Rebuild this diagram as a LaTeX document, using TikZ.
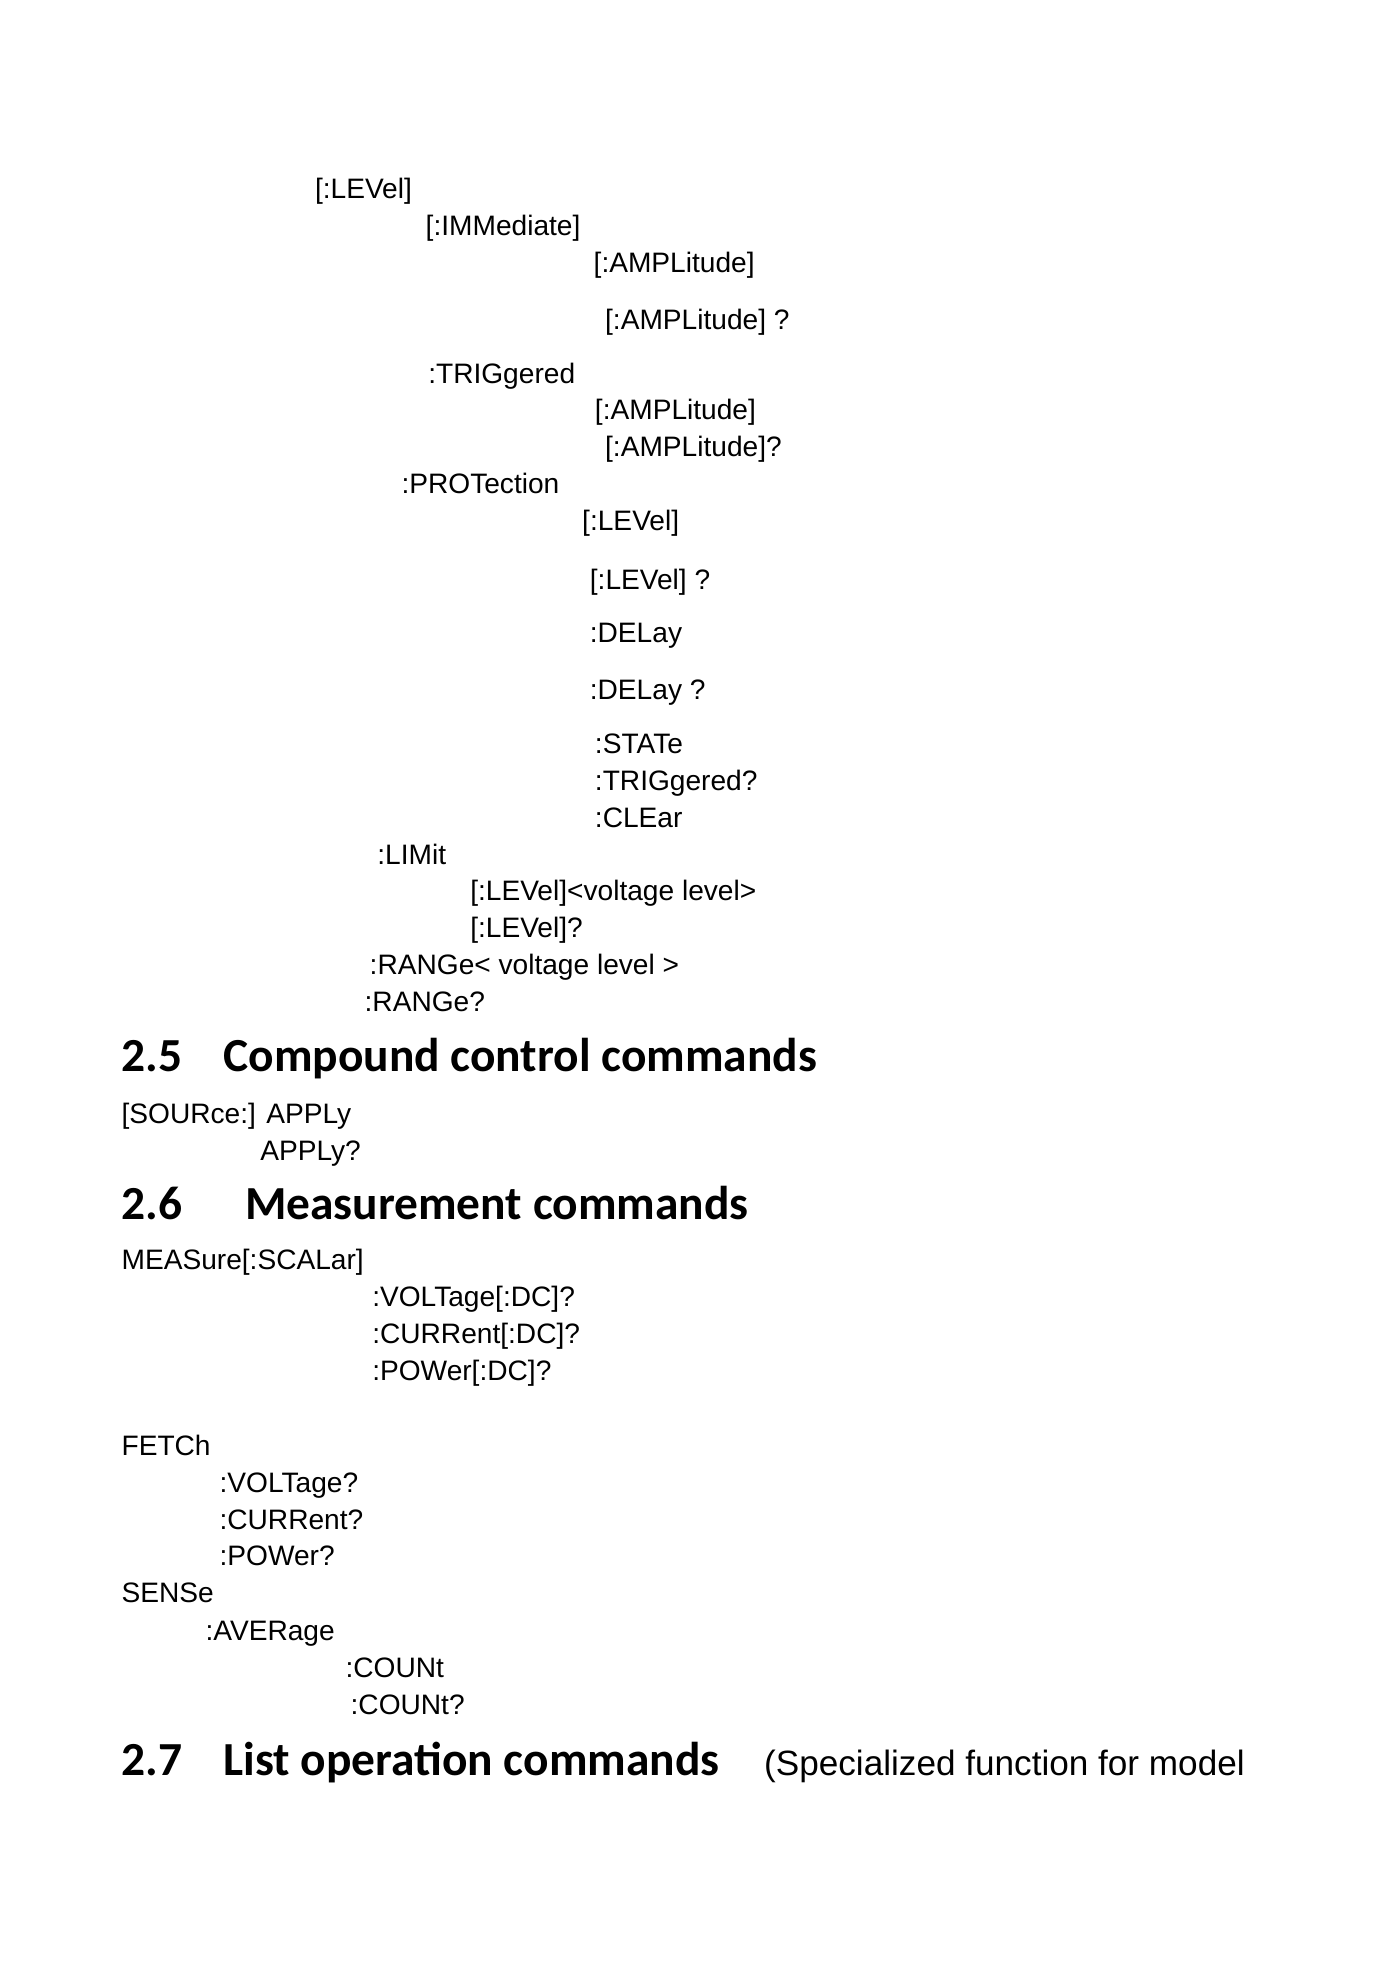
\documentclass[tikz,border=0pt]{standalone}
\usepackage{fontspec}
\setmainfont{Liberation Sans}
\newfontfamily\headfont{Carlito}
\usetikzlibrary{positioning}

\begin{document}
\begin{tikzpicture}[x=0.012727cm, y=-0.012727cm,
       every node/.style={anchor=base west, inner sep=0pt, font=\fontsize{8}{9}\selectfont},
       heading/.style={font=\headfont\bfseries\fontsize{13.5}{15}\selectfont},
       remark/.style={font=\fontsize{10}{12}\selectfont}]
	\useasboundingbox (0,0) rectangle (1100,1556);
	%% Command tree
	\foreach \px/\py/\txt [count=\i] in {
	    247/156/{[:LEVel]}, 334/185/{[:IMMediate]}, 466/214/{[:AMPLitude]},
	    475/259/{[:AMPLitude] ?}, 336/301/{:TRIGgered}, 467/330/{[:AMPLitude]},
	    475/359/{[:AMPLitude]?}, 315/388/{:PROTection}, 457/417/{[:LEVel]},
	    463/463/{[:LEVel] ?}, 463/505/{:DELay}, 463/550/{:DELay ?},
	    467/592/{:STATe}, 467/621/{:TRIGgered?}, 467/650/{:CLEar},
	    296/679/{:LIMit}, 369/708/{[:LEVel]<voltage level>}, 369/737/{[:LEVel]?},
	    290/766/{:RANGe< voltage level >}, 286/795/{:RANGe?}}
		\node (cmd\i) at (\px,\py) {\txt};
	%% Section 2.5
	\node [heading] (num25) at (95,842) {2.5};
	\node [heading] (sec25) at (175,842) {Compound control commands};
	\node (apply) at (95,883) {[SOURce:] APPLy};
	\node (applyq) at (204,912) {APPLy?};
	%% Section 2.6
	\node [heading] (num26) at (95,958) {2.6};
	\node [heading] (sec26) at (192,958) {Measurement commands};
	\foreach \px/\py/\txt [count=\i] in {
	    95/998/{MEASure[:SCALar]}, 292/1027/{:VOLTage[:DC]?}, 292/1056/{:CURRent[:DC]?},
	    292/1085/{:POWer[:DC]?}, 95/1144/{FETCh}, 172/1173/{:VOLTage?},
	    172/1202/{:CURRent?}, 172/1230/{:POWer?}, 95/1259/{SENSe},
	    161/1289/{:AVERage}, 271/1318/{:COUNt}, 275/1347/{:COUNt?}}
		\node (meas\i) at (\px,\py) {\txt};
	%% Section 2.7
	\node [heading] (num27) at (95,1395) {2.7};
	\node [heading] (sec27) at (175,1395) {List operation commands};
	\node [remark] (note27) at (600,1395) {(Specialized function for model};
\end{tikzpicture}
\end{document}
